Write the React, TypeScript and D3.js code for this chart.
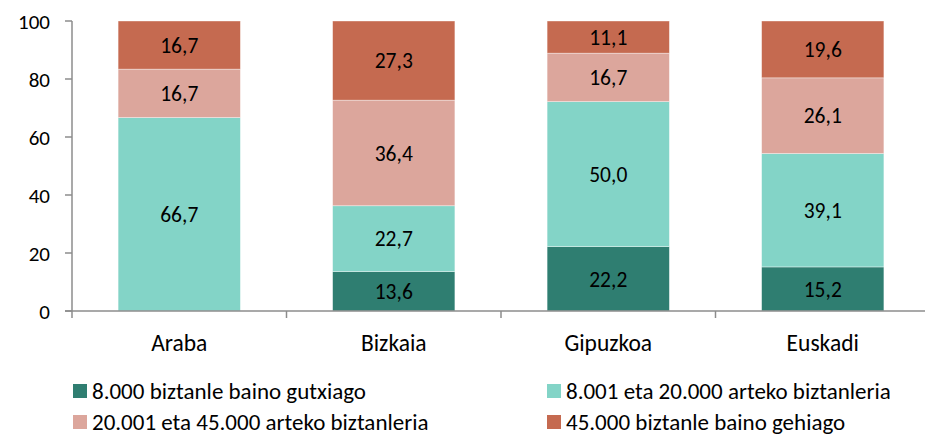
import React from "react";
import * as d3 from "d3";

const categories = ["Araba", "Bizkaia", "Gipuzkoa", "Euskadi"];
const seriesNames = [
  "8.000 biztanle baino gutxiago",
  "8.001 eta 20.000 arteko biztanleria",
  "20.001 eta 45.000 arteko biztanleria",
  "45.000 biztanle baino gehiago",
];
const seriesLt8000 = [0, 13.6, 22.2, 15.2];
const series8001to20000 = [66.7, 22.7, 50.0, 39.1];
const series20001to45000 = [16.7, 36.4, 16.7, 26.1];
const seriesGt45000 = [16.7, 27.3, 11.1, 19.6];
const yTicks = [0, 20, 40, 60, 80, 100];

const colors = ["#2f7e71", "#83d4c7", "#dca69c", "#c56a50"];

const W = 925;
const H = 436;
const FONT = "Carlito, Calibri, Lato, 'Liberation Sans', sans-serif";

export default function App() {
  const left = 72;
  const right = 930;
  const top = 21;
  const bottom = 311;
  const x = d3.scaleBand().domain(categories).range([left, right]).paddingInner(0.43).paddingOuter(0.215);
  const xCat = d3.scaleBand().domain(categories).range([left, right]);
  const y = d3.scaleLinear().domain([0, 100]).range([bottom, top]);

  const allSeries = [seriesLt8000, series8001to20000, series20001to45000, seriesGt45000];
  const rows = categories.map((c, i) => {
    const r: any = { cat: c };
    allSeries.forEach((s, k) => (r["s" + k] = s[i]));
    return r;
  });
  const stack = d3.stack().keys(["s0", "s1", "s2", "s3"])(rows as any);

  const fmt = (v: number) => v.toFixed(1).replace(".", ",");
  const axisColor = "#8c8c8c";

  return (
    <svg width={W} height={H} style={{ position: "absolute", left: 0, top: 0, background: "#fff" }} fontFamily={FONT}>
      {stack.map((layer, k) =>
        layer.map((d, i) => {
          const y0 = y(Math.min(100, d[0]));
          const y1 = y(Math.min(100, d[1]));
          const h = y0 - y1;
          if (h <= 0) return null;
          const bx = x(categories[i])!;
          return (
            <g key={k + "-" + i}>
              <rect x={bx} y={y1} width={x.bandwidth()} height={h} fill={colors[k]} stroke="#ffffff" strokeOpacity={0.5} strokeWidth={0.75} />
              <text x={bx + x.bandwidth() / 2} y={(y0 + y1) / 2} dy="0.36em" textAnchor="middle" fontSize={21.5} fill="#000">
                {fmt(allSeries[k][i])}
              </text>
            </g>
          );
        })
      )}
      {/* y axis */}
      <line x1={left} x2={left} y1={top} y2={bottom + 7} stroke={axisColor} strokeWidth={1.5} />
      {yTicks.map((t) => (
        <g key={t}>
          <line x1={left - 7} x2={left} y1={y(t)} y2={y(t)} stroke={axisColor} strokeWidth={1.5} />
          <text x={50} y={y(t)} dy="0.36em" textAnchor="end" fontSize={21} fill="#000">
            {t}
          </text>
        </g>
      ))}
      {/* x axis */}
      <line x1={left - 7} x2={W} y1={bottom} y2={bottom} stroke={axisColor} strokeWidth={1.5} />
      {categories.map((c, i) => (
        <g key={c}>
          {i > 0 && (
            <line x1={xCat(c)!} x2={xCat(c)!} y1={bottom} y2={bottom + 7} stroke={axisColor} strokeWidth={1.5} />
          )}
          <text x={xCat(c)! + xCat.bandwidth() / 2} y={343} dy="0.36em" textAnchor="middle" fontSize={23.5} fill="#000">
            {c}
          </text>
        </g>
      ))}
      {/* legend */}
      {seriesNames.map((n, k) => {
        const col = k % 2;
        const row = Math.floor(k / 2);
        const lx = col === 0 ? 73 : 547;
        const ly = row === 0 ? 391 : 422;
        return (
          <g key={n}>
            <rect x={lx} y={ly - 7} width={14} height={14} fill={colors[k]} />
            <text x={lx + 19} y={ly} dy="0.36em" fontSize={23} fill="#000">
              {n}
            </text>
          </g>
        );
      })}
    </svg>
  );
}
